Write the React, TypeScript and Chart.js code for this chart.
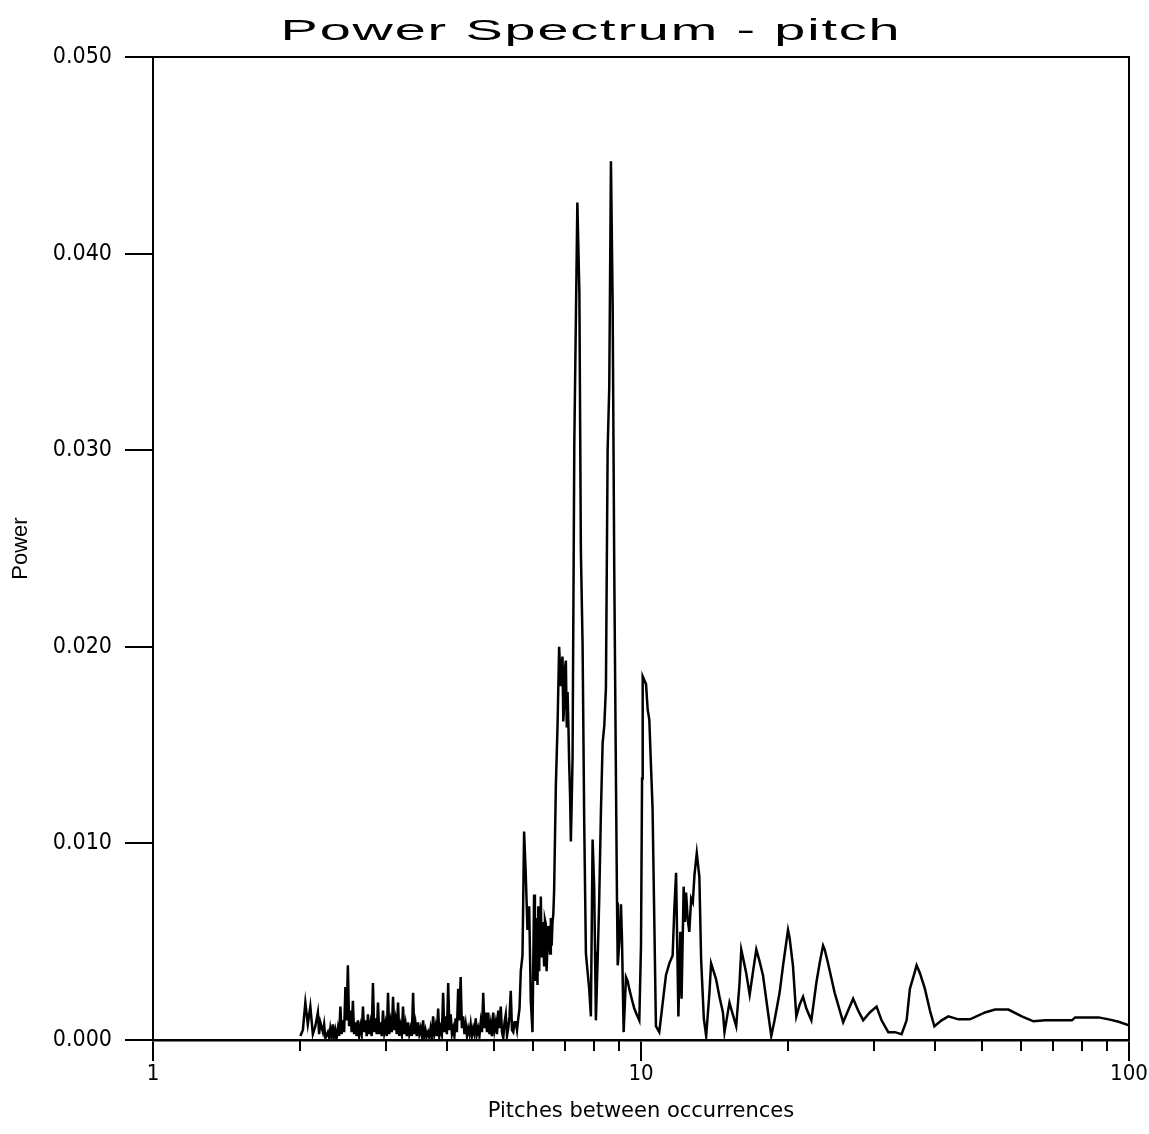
import React, { useEffect, useRef } from "react";
import { Chart, registerables } from "chart.js";

Chart.register(...registerables);

const TITLE = "Power Spectrum - pitch";
const X_TITLE = "Pitches between occurrences";
const Y_TITLE = "Power";

// x tick values (log axis)
const majorTicks = [1, 10, 100];
const minorTicks = [2, 3, 4, 5, 6, 7, 8, 9, 20, 30, 40, 50, 60, 70, 80, 90];
// y tick values
const yTicks = [0, 0.01, 0.02, 0.03, 0.04, 0.05];

// Period (pitches between occurrences) and power (in thousandths) — dense low band
const lowPeriods = [
  2.004, 2.028, 2.052, 2.076, 2.101, 2.126, 2.151, 2.177, 2.19, 2.202, 2.229, 2.242, 2.256, 2.282, 2.296, 2.309,
  2.323, 2.337, 2.35, 2.364, 2.378, 2.393, 2.407, 2.421, 2.435, 2.45, 2.464, 2.479, 2.493, 2.508, 2.523, 2.538,
  2.553, 2.568, 2.583, 2.598, 2.613, 2.629, 2.645, 2.661, 2.677, 2.693, 2.709, 2.725, 2.741, 2.757, 2.773, 2.79,
  2.806, 2.823, 2.84, 2.857, 2.874, 2.891, 2.908, 2.926, 2.943, 2.96, 2.978, 2.995, 3.013, 3.031, 3.049, 3.067,
  3.085, 3.104, 3.122, 3.14, 3.159, 3.178, 3.197, 3.216, 3.235, 3.254, 3.273, 3.293, 3.312, 3.332, 3.351, 3.371,
  3.391, 3.412, 3.432, 3.452, 3.472, 3.493, 3.514, 3.535, 3.556, 3.577, 3.598, 3.619, 3.64, 3.662, 3.684, 3.706,
  3.728, 3.75, 3.772, 3.795, 3.817, 3.84, 3.862, 3.885, 3.908, 3.931, 3.954, 3.978, 4.002, 4.026, 4.05, 4.074,
  4.098, 4.122, 4.146, 4.17, 4.195, 4.22, 4.245, 4.27, 4.295, 4.321, 4.347, 4.373, 4.399, 4.425, 4.451, 4.477,
  4.503, 4.53, 4.557, 4.584, 4.611, 4.639, 4.666, 4.694, 4.722, 4.75, 4.778, 4.806, 4.834, 4.863, 4.891, 4.92,
  4.949, 4.979, 5.009, 5.039, 5.069, 5.099, 5.129, 5.159, 5.19, 5.221, 5.252, 5.283, 5.314, 5.346, 5.377, 5.409,
  5.441, 5.473, 5.505, 5.538, 5.571, 5.604, 5.637,
];
const lowPower = [
  0.2, 0.5, 1.9, 0.8, 1.7, 0.3, 0.7, 1.4, 0.3, 0.9, 0.4, 0.8, 0.1, 0.4, 0.1, 0.6,
  0.2, 0.8, 0.1, 0.5, 0.1, 0.6, 0.2, 1.7, 0.3, 1.0, 0.4, 2.7, 1.0, 3.8, 0.7, 1.5,
  0.4, 2.0, 0.3, 0.9, 0.2, 1.0, 0.2, 0.7, 0.3, 1.7, 0.4, 1.0, 0.2, 1.3, 0.3, 0.8,
  0.2, 2.9, 0.4, 1.1, 0.3, 1.9, 0.3, 0.9, 0.2, 1.5, 0.4, 0.8, 0.2, 2.4, 0.3, 0.9,
  0.4, 2.2, 0.5, 1.0, 0.3, 1.9, 0.2, 0.7, 0.3, 1.7, 0.3, 0.8, 0.2, 0.9, 0.3, 0.6,
  0.2, 2.4, 0.3, 0.8, 0.2, 0.9, 0.3, 0.6, 0.2, 1.0, 0.1, 0.5, 0.2, 0.4, 0.1, 0.6,
  0.2, 1.2, 0.3, 0.7, 0.2, 1.6, 0.2, 0.6, 0.3, 2.4, 0.4, 1.2, 0.3, 2.9, 0.5, 1.3,
  0.3, 0.6, 0.2, 1.1, 0.4, 2.6, 1.0, 3.2, 0.6, 1.2, 0.3, 0.8, 0.2, 0.6, 0.3, 0.8,
  0.2, 0.6, 0.3, 1.1, 0.3, 0.6, 0.2, 0.9, 0.4, 2.4, 0.6, 1.4, 0.4, 1.4, 0.3, 0.8,
  0.2, 1.4, 0.5, 0.9, 0.3, 1.5, 0.6, 1.7, 0.4, 0.1, 0.9, 1.3, 0.2, 0.6, 1.2, 2.5,
  0.5, 0.4, 0.9, 0.9, 0.5, 1.1, 1.6,
];

// Main peak band
const peakPeriods = [
  5.671, 5.717, 5.76, 5.806, 5.853, 5.9, 5.945, 5.993, 6.038, 6.062, 6.087, 6.112, 6.136, 6.16, 6.185, 6.21,
  6.233, 6.258, 6.283, 6.307, 6.331, 6.356, 6.38, 6.405, 6.432, 6.456, 6.481, 6.51, 6.535, 6.56, 6.587, 6.612,
  6.637, 6.691, 6.745, 6.796, 6.85, 6.878, 6.905, 6.93, 6.958, 6.985, 7.015, 7.045, 7.072, 7.1, 7.125, 7.155,
  7.182, 7.21, 7.24, 7.3, 7.406, 7.477, 7.53, 7.591, 7.65, 7.711, 7.77, 7.832, 7.894, 7.958, 8.018, 8.05,
  8.083, 8.115, 8.148, 8.21, 8.277, 8.344, 8.41, 8.475, 8.543, 8.609, 8.678, 8.748, 8.814, 8.888, 8.93, 8.96,
  9.03, 9.098, 9.141, 9.214, 9.316, 9.39, 9.462, 9.57, 9.689, 9.8, 9.92, 10.0, 10.05, 10.08, 10.16, 10.24,
  10.32, 10.4, 10.48, 10.56, 10.64, 10.73, 10.9, 11.08, 11.25, 11.43, 11.61, 11.7, 11.8, 11.93, 12.04, 12.11,
  12.23, 12.3, 12.37, 12.46, 12.56, 12.67, 12.77, 12.87, 13.01, 13.17, 13.28, 13.45, 13.6, 13.81, 13.92,
];
const peakPower = [
  3.5, 4.3, 10.6, 8.4, 5.6, 6.8, 2.0, 0.4, 7.4, 3.0, 6.2, 4.4, 2.8, 6.8, 3.5, 6.5,
  7.3, 4.2, 6.0, 4.9, 3.8, 6.1, 5.9, 3.5, 4.8, 5.8, 5.4, 4.4, 6.2, 4.8, 6.0, 6.4,
  7.6, 12.9, 16.0, 20.0, 18.0, 19.1, 19.5, 16.2, 17.0, 18.9, 19.3, 15.9, 17.7, 16.0, 14.1, 12.5,
  10.1, 12.0, 14.3, 30.3, 42.6, 38.0, 24.9, 20.1, 11.0, 4.4, 3.5, 2.6, 1.2, 10.2, 7.8, 4.5,
  1.0, 2.5, 4.0, 7.1, 11.6, 15.1, 16.0, 17.9, 30.0, 33.2, 44.7, 37.4, 24.0, 12.9, 7.0, 3.8,
  5.0, 6.9, 5.2, 0.4, 3.2, 3.0, 2.6, 2.1, 1.6, 1.3, 1.0, 4.8, 13.3, 18.5, 18.3, 18.1,
  16.8, 16.3, 14.0, 11.8, 6.6, 0.7, 0.4, 1.9, 3.3, 3.9, 4.3, 6.6, 8.5, 1.2, 5.5, 2.1,
  7.8, 6.0, 7.5, 6.2, 5.5, 7.2, 7.0, 8.4, 9.5, 8.3, 4.1, 1.1, 0.2, 2.4, 3.9,
];

// Long-period tail
const tailPeriods = [
  14.25, 14.48, 14.72, 14.83, 15.18, 15.67, 15.92, 16.05, 16.18, 16.43, 16.7, 16.97, 17.23, 17.5, 17.78, 18.21,
  18.49, 18.78, 19.23, 19.55, 20.01, 20.16, 20.48, 20.81, 21.14, 21.48, 21.82, 22.34, 22.87, 23.23, 23.61, 23.79,
  24.17, 24.94, 25.96, 26.57, 27.21, 27.86, 28.53, 29.44, 30.39, 31.11, 32.12, 33.13, 34.2, 35.02, 35.56, 36.14,
  36.71, 37.29, 38.18, 39.09, 39.92, 41.3, 42.64, 44.7, 47.22, 50.7, 53.15, 56.62, 60.3, 63.72, 67.32, 76.38,
  77.58, 86.65, 90.85, 95.25, 100,
];
const tailPower = [
  3.1, 2.2, 1.4, 0.4, 1.9, 0.7, 2.9, 4.6, 4.2, 3.4, 2.3, 3.5, 4.6, 4.0, 3.3, 1.4,
  0.2, 1.0, 2.4, 3.8, 5.6, 5.2, 3.8, 1.2, 1.8, 2.2, 1.6, 1.0, 2.9, 3.9, 4.8, 4.6,
  3.9, 2.4, 0.9, 1.5, 2.1, 1.5, 1.0, 1.4, 1.7, 1.0, 0.4, 0.4, 0.3, 1.0, 2.6, 3.2,
  3.8, 3.4, 2.6, 1.5, 0.7, 1.0, 1.2, 1.05, 1.05, 1.4, 1.55, 1.55, 1.2, 0.95, 1.0, 1.0,
  1.15, 1.15, 1.05, 0.93, 0.75,
];

const periods = [...lowPeriods, ...peakPeriods, ...tailPeriods];
const powerMilli = [...lowPower, ...peakPower, ...tailPower];

const TICK_FONT = '"Liberation Sans Narrow", "DejaVu Sans Condensed", "Arial Narrow", sans-serif';
const LABEL_FONT = '"Liberation Sans", Arial, sans-serif';

const framePlugin = {
  id: "frame",
  afterDraw(chart: any) {
    const { ctx, chartArea } = chart;
    const { left, right, top, bottom } = chartArea;
    ctx.save();
    ctx.strokeStyle = "#000";
    ctx.lineWidth = 2;
    ctx.beginPath();
    ctx.moveTo(left, top);
    ctx.lineTo(right, top);
    ctx.lineTo(right, bottom);
    ctx.stroke();
    ctx.restore();
  },
};

const titlePlugin = {
  id: "stretchedTitle",
  afterDraw(chart: any) {
    const ctx = chart.ctx;
    ctx.save();
    ctx.font = '30px ' + LABEL_FONT;
    ctx.fillStyle = "#000";
    ctx.textAlign = "center";
    ctx.textBaseline = "alphabetic";
    ctx.translate(591, 40);
    ctx.scale(1.86, 1);
    try {
      (ctx as any).letterSpacing = "1px";
    } catch (e) {}
    ctx.fillText(TITLE, 0, 0);
    ctx.restore();
  },
};

export default function App() {
  const canvasRef = useRef<HTMLCanvasElement | null>(null);

  useEffect(() => {
    const canvas = canvasRef.current;
    if (!canvas) return;
    const data = periods.map((p, i) => ({ x: p, y: powerMilli[i] / 1000 }));
    const chart = new Chart(canvas, {
      type: "line",
      data: {
        datasets: [
          {
            data,
            xAxisID: "x",
            yAxisID: "y",
            borderColor: "#000",
            borderWidth: 2.5,
            pointRadius: 0,
            fill: false,
            tension: 0,
          },
        ],
      },
      options: {
        responsive: false,
        animation: false,
        devicePixelRatio: 1,
        layout: { padding: { left: 0, right: 20, top: 57, bottom: 10 } },
        plugins: {
          legend: { display: false },
          title: { display: false },
          tooltip: { enabled: false },
        },
        scales: {
          x: {
            type: "logarithmic",
            position: "bottom",
            min: 1,
            max: 100,
            weight: 1,
            afterBuildTicks: (s: any) => {
              s.ticks = majorTicks.map((v) => ({ value: v }));
            },
            afterFit: (s: any) => {
              s.height = 84;
            },
            ticks: {
              autoSkip: false,
              maxRotation: 0,
              padding: 0,
              color: "#000",
              font: { family: TICK_FONT, size: 22 },
              callback: (v: any) => String(v),
            },
            grid: {
              drawOnChartArea: false,
              drawTicks: true,
              tickLength: 21,
              color: "#000",
              lineWidth: 2,
            },
            border: { display: true, color: "#000", width: 2.5 },
            title: {
              display: true,
              text: X_TITLE,
              color: "#000",
              font: { family: '"DejaVu Sans", sans-serif', size: 21 },
              padding: { top: 0, bottom: 0 },
            },
          },
          xMinor: {
            type: "logarithmic",
            axis: "x",
            position: "bottom",
            min: 1,
            max: 100,
            weight: 0,
            afterBuildTicks: (s: any) => {
              s.ticks = minorTicks.map((v) => ({ value: v }));
            },
            afterFit: (s: any) => {
              s.height = 0;
            },
            ticks: { display: false },
            grid: {
              drawOnChartArea: false,
              drawTicks: true,
              tickLength: 11,
              color: "#000",
              lineWidth: 2,
            },
            border: { display: false },
          },
          y: {
            type: "linear",
            position: "left",
            min: 0,
            max: 0.05,
            afterBuildTicks: (s: any) => {
              s.ticks = yTicks.map((v) => ({ value: v }));
            },
            afterFit: (s: any) => {
              s.width = 153;
            },
            ticks: {
              padding: 13,
              color: "#000",
              font: { family: TICK_FONT, size: 23 },
              callback: (v: any) => Number(v).toFixed(3),
            },
            grid: {
              drawOnChartArea: false,
              drawTicks: true,
              tickLength: 28,
              color: "#000",
              lineWidth: 2,
            },
            border: { display: true, color: "#000", width: 2 },
            title: {
              display: true,
              text: Y_TITLE,
              color: "#000",
              font: { family: LABEL_FONT, size: 22 },
              padding: { top: 8, bottom: 0 },
            },
          },
        },
      } as any,
      plugins: [framePlugin, titlePlugin],
    });
    return () => chart.destroy();
  }, []);

  return (
    <div style={{ position: "absolute", left: 0, top: 0, width: 1149, height: 1134, background: "#fff" }}>
      <canvas ref={canvasRef} width={1149} height={1134} style={{ display: "block" }} />
    </div>
  );
}
